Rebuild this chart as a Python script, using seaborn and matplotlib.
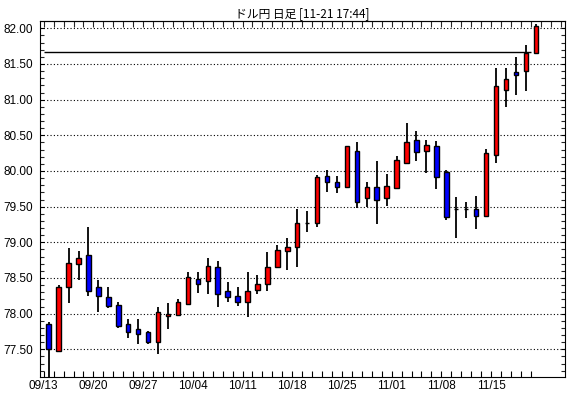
import matplotlib
matplotlib.use("Agg")
import matplotlib.pyplot as plt
import seaborn as sns
import numpy as np
import pandas as pd

# ---- data ----
title_text = "ドル円 日足 [11-21 17:44]"
date_labels = ["09/13", "09/20", "09/27", "10/04", "10/11", "10/18",
               "10/25", "11/01", "11/08", "11/15"]
opens = [77.85, 77.48, 78.37, 78.69, 78.82, 78.37, 78.24, 78.12, 77.85, 77.78,
         77.74, 77.60, 77.96, 77.98, 78.14, 78.48, 78.46, 78.65, 78.32, 78.25,
         78.17, 78.33, 78.41, 78.65, 78.88, 78.93, 79.265, 79.27, 79.93, 79.84,
         79.78, 80.28, 79.62, 79.78, 79.62, 79.76, 80.11, 80.43, 80.28, 80.35,
         79.99, 79.466, 79.466, 79.47, 79.37, 80.23, 81.14, 81.39, 81.40, 81.66]
closes = [77.50, 78.38, 78.71, 78.78, 78.32, 78.25, 78.11, 77.82, 77.74, 77.72,
          77.60, 78.02, 77.99, 78.16, 78.51, 78.42, 78.67, 78.28, 78.23, 78.16,
          78.32, 78.41, 78.66, 78.89, 78.94, 79.27, 79.265, 79.92, 79.85, 79.77,
          80.35, 79.56, 79.78, 79.60, 79.79, 80.16, 80.41, 80.27, 80.36, 79.92,
          79.35, 79.466, 79.466, 79.37, 80.25, 81.19, 81.29, 81.35, 81.66, 82.03]
highs = [77.88, 78.40, 78.92, 78.88, 79.22, 78.47, 78.37, 78.16, 77.93, 77.92,
         77.76, 78.10, 78.15, 78.20, 78.58, 78.58, 78.78, 78.74, 78.44, 78.37,
         78.58, 78.54, 78.86, 78.96, 79.06, 79.47, 79.44, 79.94, 80.01, 79.93,
         80.35, 80.40, 79.85, 80.14, 79.96, 80.21, 80.67, 80.56, 80.43, 80.42,
         80.01, 79.63, 79.57, 79.65, 80.31, 81.45, 81.44, 81.60, 81.77, 82.06]
lows = [77.05, 77.46, 78.15, 78.47, 78.25, 78.02, 78.08, 77.80, 77.66, 77.58,
        77.58, 77.43, 77.79, 77.97, 78.12, 78.29, 78.27, 78.09, 78.16, 78.11,
        77.95, 78.28, 78.32, 78.64, 78.61, 78.65, 79.14, 79.21, 79.70, 79.69,
        79.77, 79.48, 79.49, 79.26, 79.51, 79.75, 80.10, 80.14, 79.97, 79.75,
        79.31, 79.06, 79.34, 79.19, 79.37, 80.11, 80.90, 81.06, 81.12, 81.65]
ref_level = 81.663

df = pd.DataFrame({"open": opens, "close": closes, "high": highs, "low": lows})
df["idx"] = np.arange(len(df))
df["bottom"] = df[["open", "close"]].min(axis=1)
df["height"] = (df["close"] - df["open"]).abs()
df["color"] = np.where(df["close"] > df["open"], "#ff0000",
                       np.where(df["close"] < df["open"], "#0000ff", "black"))

sns.set_style("white")
plt.rcParams["font.family"] = ["Liberation Sans", "DejaVu Sans"]
plt.rcParams["font.size"] = 8

fig = plt.figure(figsize=(5.70, 3.98), dpi=100)
ax = fig.add_axes([40 / 570, 1 - 376.7 / 398, 525 / 570, 356 / 398])

# wicks
ax.vlines(df["idx"], df["low"], df["high"], color="black", lw=1.3, zorder=2)
# bodies
ax.bar(df["idx"], df["height"], bottom=df["bottom"], width=0.45,
       color=df["color"], edgecolor="black", linewidth=1.0, zorder=3)

# reference line (previous close)
ax.hlines(ref_level, -0.5, len(df) - 1.5, color="black", lw=1.0, zorder=4)

ax.set_xlim(-0.875, 51.94)
ax.set_ylim(77.116, 82.107)

# y axis
yt = np.arange(77.5, 82.01, 0.5)
ax.set_yticks(yt)
ax.set_yticklabels([f"{v:.2f}" for v in yt])
ax.set_yticks(np.arange(77.2, 82.1, 0.1), minor=True)
ax.grid(axis="y", which="major", color="black", linestyle=(0, (1, 2)), lw=0.8)
ax.grid(axis="x", visible=False)
ax.tick_params(axis="y", which="major", direction="in", length=3, width=0.8,
               pad=5, left=True, right=True, labelsize=8.5, colors="black")
ax.tick_params(axis="y", which="minor", direction="in", length=3, width=0.8,
               left=True, right=True)

# x axis
n = len(df)
xt_bottom = np.arange(n) - 0.5
ax.set_xticks(xt_bottom)
lab = [""] * n
for k, t in enumerate(date_labels):
    lab[5 * k] = t
ax.set_xticklabels(lab)
ax.tick_params(axis="x", which="major", direction="in", length=4, width=0.8,
               pad=2.5, bottom=True, top=False, labelsize=8.5, colors="black")
sec = ax.secondary_xaxis("top")
sec.set_xticks(np.arange(n + 3) - 0.5)
sec.set_xticklabels([])
sec.tick_params(direction="in", length=4, width=0.8)
for s in sec.spines.values():
    s.set_linewidth(0.8)

for s in ax.spines.values():
    s.set_visible(True)
    s.set_color("black")
    s.set_linewidth(0.8)

ax.set_title(title_text, fontsize=8.5, pad=3, color="black",
             family=["Noto Sans CJK JP", "DejaVu Sans"])

fig.savefig("out.png", dpi=100, facecolor="white")
